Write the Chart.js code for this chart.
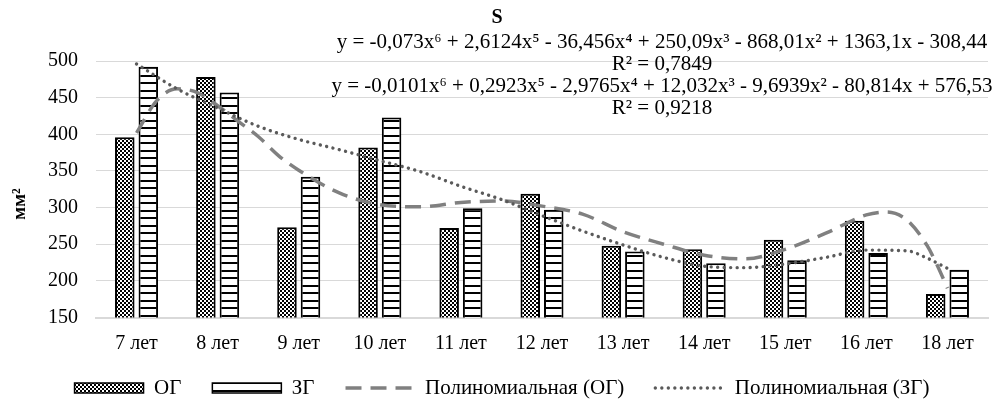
<!DOCTYPE html>
<html>
<head>
<meta charset="utf-8">
<script src="https://cdn.jsdelivr.net/npm/chart.js@4.4.1/dist/chart.umd.min.js"></script>
<style>
html,body{margin:0;padding:0;background:#fff;}
canvas{display:block;}
</style>
</head>
<body>
<canvas id="c" width="1000" height="401"></canvas>
<script>
// ---- data ----
const categories = ['7 лет','8 лет','9 лет','10 лет','11 лет','12 лет','13 лет','14 лет','15 лет','16 лет','18 лет'];
const valuesOG = [396, 478, 273, 382, 272, 319, 248, 243, 256, 282, 182];
const valuesZG = [492, 457, 342, 423, 299, 297, 240, 224, 228, 238, 215];

// trend lines (x in category units, 0 = "7 лет")
const trendOGx = [0, 0.25, 0.5, 0.75, 1, 1.25, 1.5, 1.75, 2, 2.5, 3, 3.5, 4, 4.5, 5, 5.5, 6, 6.5, 7, 7.5, 8, 8.5, 9, 9.25, 9.5, 9.75, 9.875, 10];
const trendOGy = [402, 446, 462, 457, 439, 418, 397, 371, 351, 320, 304, 301, 307, 309, 302, 291, 267, 250, 235, 230, 243, 265, 290, 294, 283, 248, 221, 190];
const trendZGx = [0, 0.5, 1, 1.5, 2, 2.5, 3, 3.5, 4, 4.5, 5, 5.5, 6, 6.5, 7, 7.5, 8, 8.5, 9, 9.5, 9.75, 10];
const trendZGy = [496, 462, 436, 411, 393, 379, 364, 349, 329, 311, 289, 268, 249, 232, 220, 218, 223, 232, 242, 241, 231, 217];

const yTickValues = [150, 200, 250, 300, 350, 400, 450, 500];

const seriesNames = ['ОГ', 'ЗГ', 'Полиномиальная (ОГ)', 'Полиномиальная (ЗГ)'];
const titleText = 'S';
const yTitleText = 'мм²';
const equationTexts = [
  'y = -0,073x⁶ + 2,6124x⁵ - 36,456x⁴ + 250,09x³ - 868,01x² + 1363,1x - 308,44',
  'R² = 0,7849',
  'y = -0,0101x⁶ + 0,2923x⁵ - 2,9765x⁴ + 12,032x³ - 9,6939x² - 80,814x + 576,53',
  'R² = 0,9218'
];

// ---- patterns ----
const canvas = document.getElementById('c');
const ctx = canvas.getContext('2d');

function checkerPattern() {
  const t = document.createElement('canvas');
  t.width = 4; t.height = 4;
  const g = t.getContext('2d');
  g.fillStyle = '#000'; g.fillRect(0, 0, 4, 4);
  g.fillStyle = '#fff'; g.fillRect(0, 0, 2, 2); g.fillRect(2, 2, 2, 2);
  return ctx.createPattern(t, 'repeat');
}
function hLinePattern() {
  const t = document.createElement('canvas');
  t.width = 4; t.height = 15;
  const g = t.getContext('2d');
  g.fillStyle = '#fff'; g.fillRect(0, 0, 4, 15);
  g.fillStyle = '#000'; g.fillRect(0, 0, 4, 2); g.fillRect(0, 7, 4, 2);
  return ctx.createPattern(t, 'repeat');
}
const patOG = checkerPattern();
const patZG = hLinePattern();

const FONT = 'Liberation Serif';

const textPlugin = {
  id: 'textPlugin',
  afterLayout(chart) {
    // let the x tick labels extend into the space above the legend items
    const xs = chart.scales.x;
    xs.bottom += 30; xs.height += 30;
    if (chart.legend) { chart.legend.left += 8; chart.legend.right += 8; }
  },
  afterDraw(chart) {
    const c = chart.ctx;
    c.save();
    c.fillStyle = '#000';
    c.textAlign = 'center';
    c.textBaseline = 'middle';
    c.font = 'bold 20px "' + FONT + '"';
    c.fillText(titleText, 497, 18);
    c.font = '21px "' + FONT + '"';
    const ys = [42, 64, 86, 108];
    equationTexts.forEach((t, i) => c.fillText(t, 662, ys[i]));
    // y axis title
    c.save();
    c.translate(20, 204);
    c.rotate(-Math.PI / 2);
    c.font = 'bold 19px "' + FONT + '"';
    c.fillText(yTitleText, 0, 0);
    c.restore();
    c.restore();
  }
};

new Chart(ctx, {
  type: 'bar',
  data: {
    datasets: [
      {
        label: seriesNames[0], data: valuesOG.map((v, i) => ({x: i, y: v})),
        backgroundColor: patOG, borderColor: '#000', borderWidth: 2, borderSkipped: false,
        categoryPercentage: 0.58, barPercentage: 0.83, order: 2
      },
      {
        label: seriesNames[1], data: valuesZG.map((v, i) => ({x: i, y: v})),
        backgroundColor: patZG, borderColor: '#000', borderWidth: 2, borderSkipped: false,
        categoryPercentage: 0.58, barPercentage: 0.83, order: 2
      },
      {
        type: 'line', label: seriesNames[2],
        data: trendOGx.map((x, i) => ({x: x, y: trendOGy[i]})),
        borderColor: '#808080', borderWidth: 3.5, borderDash: [16, 9],
        pointRadius: 0, fill: false, cubicInterpolationMode: 'monotone', order: 1
      },
      {
        type: 'line', label: seriesNames[3],
        data: trendZGx.map((x, i) => ({x: x, y: trendZGy[i]})),
        borderColor: '#5a5a5a', borderWidth: 3.4, borderDash: [0.01, 6.5], borderCapStyle: 'round',
        pointRadius: 0, fill: false, cubicInterpolationMode: 'monotone', order: 0
      }
    ]
  },
  options: {
    responsive: false,
    animation: false,
    devicePixelRatio: 1,
    layout: { padding: { top: 61, right: 12, bottom: -7.5, left: 0 } },
    scales: {
      x: {
        type: 'linear', min: -0.5, max: 10.5, offset: false,
        afterBuildTicks(s) { s.ticks = categories.map((_, i) => ({value: i})); },
        grid: { display: false, drawTicks: false },
        border: { display: true, color: '#d9d9d9', width: 2 },
        ticks: {
          font: { family: FONT, size: 20 }, color: '#000', padding: 14, maxRotation: 0, autoSkip: false,
          callback: (v) => categories[v]
        },
        afterFit(s) { s.height = 29; }
      },
      y: {
        min: yTickValues[0], max: yTickValues[yTickValues.length - 1],
        afterBuildTicks(s) { s.ticks = yTickValues.map(v => ({value: v})); },
        grid: { color: '#d9d9d9', drawTicks: false, lineWidth: 1 },
        border: { display: false },
        ticks: { font: { family: FONT, size: 20 }, color: '#000', padding: 18 },
        title: { display: false },
        afterFit(s) { s.width = 96; }
      }
    },
    plugins: {
      tooltip: { enabled: false },
      title: { display: false },
      legend: {
        position: 'bottom',
        labels: {
          font: { family: FONT, size: 21 }, color: '#000',
          usePointStyle: true, pointStyleWidth: 69, boxHeight: 10, padding: 31,
          generateLabels(chart) {
            return chart.data.datasets.map((ds, i) => ({
              text: ds.label,
              fillStyle: ds.type === 'line' ? 'rgba(0,0,0,0)' : ds.backgroundColor,
              strokeStyle: ds.borderColor,
              lineWidth: ds.type === 'line' ? ds.borderWidth : 1.5,
              lineDash: ds.borderDash || [],
              lineCap: ds.borderCapStyle || 'butt',
              pointStyle: ds.type === 'line' ? 'line' : 'rect',
              hidden: false, datasetIndex: i, fontColor: '#000'
            }));
          }
        }
      }
    }
  },
  plugins: [textPlugin]
});
</script>
</body>
</html>
